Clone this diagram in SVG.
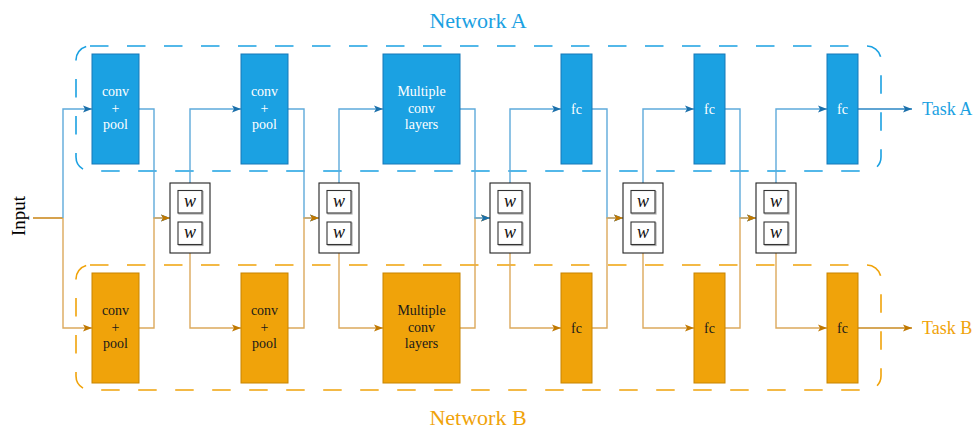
<svg xmlns="http://www.w3.org/2000/svg" width="974" height="430" viewBox="0 0 974 430">
<style>
text{font-family:"Liberation Serif","Times New Roman",serif}
.nb rect{fill:#1BA1E2;stroke:#1678B8;stroke-width:1}
.nb text{fill:#ffffff;font-size:14px;text-anchor:middle}
.no rect{fill:#F0A30A;stroke:#C88400;stroke-width:1}
.no text{fill:#1a1a1a;font-size:14px;text-anchor:middle}
.cs .outer{fill:#fff;stroke:#222;stroke-width:1.1}
.cs .sh{fill:none;stroke:#b0b0b0;stroke-width:1.2}
.cs .in{fill:#fff;stroke:#333;stroke-width:1.1}
.cs text{font-size:18px;font-style:italic;text-anchor:middle;fill:#111}
.lb{fill:none;stroke:#5EAADB;stroke-width:1.4}
.lo{fill:none;stroke:#DCA95C;stroke-width:1.4}
.ab{marker-end:url(#arB)}
.ao{marker-end:url(#arO)}
.dash{fill:none;stroke-width:1.6;stroke-dasharray:18.5 18.5}
</style>
<defs>
<marker id="arB" markerUnits="userSpaceOnUse" markerWidth="10" markerHeight="8" refX="9" refY="4" orient="auto">
<path d="M0,0.5 L9,4 L0,7.5 L2,4 z" fill="#1A6FAA"/>
</marker>
<marker id="arO" markerUnits="userSpaceOnUse" markerWidth="10" markerHeight="8" refX="9" refY="4" orient="auto">
<path d="M0,0.5 L9,4 L0,7.5 L2,4 z" fill="#C07800"/>
</marker>
</defs>

<g id="networkA">
<rect class="dash" x="76" y="46" width="805" height="125" rx="14" stroke="#1BA1E2"/>
<text x="478" y="28" font-size="22" fill="#1BA1E2" text-anchor="middle">Network A</text>
</g>
<g id="networkB">
<rect class="dash" x="76" y="265" width="805" height="125" rx="14" stroke="#F0A30A"/>
<text x="478" y="425" font-size="22" fill="#F0A30A" text-anchor="middle">Network B</text>
</g>

<g id="connectors">
<path d="M33,218 H63" fill="none" stroke="#C47A00" stroke-width="1.4"/>
<path class="lb ab" d="M63,218 V109 H92"/>
<path class="lo ao" d="M63,218 V328 H92"/>
<!-- stage 1 -->
<path class="lb ab" d="M139,109 H154 V218 H170"/>
<path class="lo ao" d="M139,328 H154 V218 H170"/>
<path class="lb ab" d="M190,183 V109 H241"/>
<path class="lo ao" d="M190,253 V328 H241"/>
<!-- stage 2 -->
<path class="lb ab" d="M288,109 H304 V218 H319"/>
<path class="lo ao" d="M288,328 H304 V218 H319"/>
<path class="lb ab" d="M339,183 V109 H383"/>
<path class="lo ao" d="M339,253 V328 H383"/>
<!-- stage 3 -->
<path class="lo ao" d="M460,328 H475 V218 H490"/>
<path class="lb ab" d="M460,109 H475 V218 H490"/>
<path class="lb ab" d="M510,183 V109 H561"/>
<path class="lo ao" d="M510,253 V328 H561"/>
<!-- stage 4 -->
<path class="lb ab" d="M592,109 H607 V218 H623"/>
<path class="lo ao" d="M592,328 H607 V218 H623"/>
<path class="lb ab" d="M643,183 V109 H694"/>
<path class="lo ao" d="M643,253 V328 H694"/>
<!-- stage 5 -->
<path class="lb ab" d="M725,109 H740 V218 H756"/>
<path class="lo ao" d="M725,328 H740 V218 H756"/>
<path class="lb ab" d="M776,183 V109 H827"/>
<path class="lo ao" d="M776,253 V328 H827"/>
<!-- outputs -->
<path class="ab" d="M858,109 H912" fill="none" stroke="#2A86C4" stroke-width="1.4"/>
<path class="ao" d="M858,328 H912" fill="none" stroke="#C98A20" stroke-width="1.4"/>
</g>

<g id="input"><text transform="translate(25,216) rotate(-90)" font-size="19" text-anchor="middle" fill="#000">Input</text></g>
<g id="taskA"><text x="922" y="115" font-size="18" fill="#1BA1E2">Task A</text></g>
<g id="taskB"><text x="922" y="334" font-size="18" fill="#F0A30A">Task B</text></g>

<g id="a1" class="nb"><rect x="92" y="54" width="47" height="110"/><text x="115.5" y="96">conv</text><text x="115.5" y="113">+</text><text x="115.5" y="129">pool</text></g>
<g id="a2" class="nb"><rect x="241" y="54" width="47" height="110"/><text x="264.5" y="96">conv</text><text x="264.5" y="113">+</text><text x="264.5" y="129">pool</text></g>
<g id="a3" class="nb"><rect x="383" y="54" width="77" height="110"/><text x="421.5" y="96">Multiple</text><text x="421.5" y="113">conv</text><text x="421.5" y="129">layers</text></g>
<g id="a4" class="nb"><rect x="561" y="54" width="31" height="110"/><text x="576.5" y="114">fc</text></g>
<g id="a5" class="nb"><rect x="694" y="54" width="31" height="110"/><text x="709.5" y="114">fc</text></g>
<g id="a6" class="nb"><rect x="827" y="54" width="31" height="110"/><text x="842.5" y="114">fc</text></g>

<g id="b1" class="no"><rect x="92" y="273" width="47" height="110"/><text x="115.5" y="315">conv</text><text x="115.5" y="332">+</text><text x="115.5" y="348">pool</text></g>
<g id="b2" class="no"><rect x="241" y="273" width="47" height="110"/><text x="264.5" y="315">conv</text><text x="264.5" y="332">+</text><text x="264.5" y="348">pool</text></g>
<g id="b3" class="no"><rect x="383" y="273" width="77" height="110"/><text x="421.5" y="315">Multiple</text><text x="421.5" y="332">conv</text><text x="421.5" y="348">layers</text></g>
<g id="b4" class="no"><rect x="561" y="273" width="31" height="110"/><text x="576.5" y="333">fc</text></g>
<g id="b5" class="no"><rect x="694" y="273" width="31" height="110"/><text x="709.5" y="333">fc</text></g>
<g id="b6" class="no"><rect x="827" y="273" width="31" height="110"/><text x="842.5" y="333">fc</text></g>

<g id="cs1" class="cs" transform="translate(170,183)">
<rect class="outer" x="0" y="0" width="40" height="70"/>
<rect class="sh" x="9" y="8.5" width="24" height="22.5"/><rect class="in" x="8" y="7.5" width="24" height="22.5"/><text x="20" y="23.5">w</text>
<rect class="sh" x="9" y="40" width="24" height="22.5"/><rect class="in" x="8" y="39" width="24" height="22.5"/><text x="20" y="55">w</text>
</g>
<g id="cs2" class="cs" transform="translate(319,183)">
<rect class="outer" x="0" y="0" width="40" height="70"/>
<rect class="sh" x="9" y="8.5" width="24" height="22.5"/><rect class="in" x="8" y="7.5" width="24" height="22.5"/><text x="20" y="23.5">w</text>
<rect class="sh" x="9" y="40" width="24" height="22.5"/><rect class="in" x="8" y="39" width="24" height="22.5"/><text x="20" y="55">w</text>
</g>
<g id="cs3" class="cs" transform="translate(490,183)">
<rect class="outer" x="0" y="0" width="40" height="70"/>
<rect class="sh" x="9" y="8.5" width="24" height="22.5"/><rect class="in" x="8" y="7.5" width="24" height="22.5"/><text x="20" y="23.5">w</text>
<rect class="sh" x="9" y="40" width="24" height="22.5"/><rect class="in" x="8" y="39" width="24" height="22.5"/><text x="20" y="55">w</text>
</g>
<g id="cs4" class="cs" transform="translate(623,183)">
<rect class="outer" x="0" y="0" width="40" height="70"/>
<rect class="sh" x="9" y="8.5" width="24" height="22.5"/><rect class="in" x="8" y="7.5" width="24" height="22.5"/><text x="20" y="23.5">w</text>
<rect class="sh" x="9" y="40" width="24" height="22.5"/><rect class="in" x="8" y="39" width="24" height="22.5"/><text x="20" y="55">w</text>
</g>
<g id="cs5" class="cs" transform="translate(756,183)">
<rect class="outer" x="0" y="0" width="40" height="70"/>
<rect class="sh" x="9" y="8.5" width="24" height="22.5"/><rect class="in" x="8" y="7.5" width="24" height="22.5"/><text x="20" y="23.5">w</text>
<rect class="sh" x="9" y="40" width="24" height="22.5"/><rect class="in" x="8" y="39" width="24" height="22.5"/><text x="20" y="55">w</text>
</g>
</svg>
